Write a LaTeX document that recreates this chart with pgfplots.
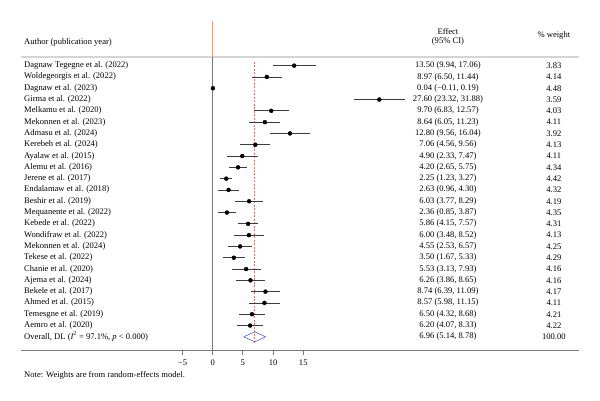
\documentclass[border=0pt]{standalone}
\usepackage{pgfplots}
\usepackage{pgfplotstable}
\usepackage{fontspec}
\setmainfont{Liberation Serif}
\pgfplotsset{compat=1.18}

\definecolor{cigray}{RGB}{60,60,60}
\definecolor{zerogray}{RGB}{120,120,120}
\definecolor{sepgray}{RGB}{212,212,212}
\definecolor{nullorange}{RGB}{246,160,140}
\definecolor{pooledred}{RGB}{200,120,110}
\definecolor{diamondblue}{RGB}{80,96,205}

% Study-level estimates with 95% CI and random-effects weights
\pgfplotstableread[col sep=semicolon]{
row;est;lo;hi;w;author;ci
1;13.50;9.94;17.06;3.83;Dagnaw Tegegne et al. (2022);13.50 (9.94, 17.06)
2;8.97;6.50;11.44;4.14;Woldegeorgis et al. (2022);8.97 (6.50, 11.44)
3;0.04;-0.11;0.19;4.48;Dagnaw et al. (2023);0.04 (−0.11, 0.19)
4;27.60;23.32;31.88;3.59;Girma et al. (2022);27.60 (23.32, 31.88)
5;9.70;6.83;12.57;4.03;Melkamu et al. (2020);9.70 (6.83, 12.57)
6;8.64;6.05;11.23;4.11;Mekonnen et al. (2023);8.64 (6.05, 11.23)
7;12.80;9.56;16.04;3.92;Admasu et al. (2024);12.80 (9.56, 16.04)
8;7.06;4.56;9.56;4.13;Kerebeh et al. (2024);7.06 (4.56, 9.56)
9;4.90;2.33;7.47;4.11;Ayalaw et al. (2015);4.90 (2.33, 7.47)
10;4.20;2.65;5.75;4.34;Alemu et al. (2016);4.20 (2.65, 5.75)
11;2.25;1.23;3.27;4.42;Jerene et al. (2017);2.25 (1.23, 3.27)
12;2.63;0.96;4.30;4.32;Endalamaw et al. (2018);2.63 (0.96, 4.30)
13;6.03;3.77;8.29;4.19;Beshir et al. (2019);6.03 (3.77, 8.29)
14;2.36;0.85;3.87;4.35;Mequanente et al. (2022);2.36 (0.85, 3.87)
15;5.86;4.15;7.57;4.31;Kebede et al. (2022);5.86 (4.15, 7.57)
16;6.00;3.48;8.52;4.13;Wondifraw et al. (2022);6.00 (3.48, 8.52)
17;4.55;2.53;6.57;4.25;Mekonnen et al. (2024);4.55 (2.53, 6.57)
18;3.50;1.67;5.33;4.29;Tekese et al. (2022);3.50 (1.67, 5.33)
19;5.53;3.13;7.93;4.16;Chanie et al. (2020);5.53 (3.13, 7.93)
20;6.26;3.86;8.65;4.16;Ajema et al. (2024);6.26 (3.86, 8.65)
21;8.74;6.39;11.09;4.17;Bekele et al. (2017);8.74 (6.39, 11.09)
22;8.57;5.98;11.15;4.11;Ahmed et al. (2015);8.57 (5.98, 11.15)
23;6.50;4.32;8.68;4.21;Temesgne et al. (2019);6.50 (4.32, 8.68)
24;6.20;4.07;8.33;4.22;Aemro et al. (2020);6.20 (4.07, 8.33)
}\studies

% Pooled estimate (DerSimonian--Laird)
\pgfplotstableread[col sep=semicolon]{
row;est;lo;hi;w;ci
25;6.96;5.14;8.78;100.00;6.96 (5.14, 8.78)
}\pooled

\begin{document}
\fontsize{8.6}{10}\selectfont
\begin{tikzpicture}
\begin{axis}[
  scale only axis,
  width=558bp, height=293.4bp,
  xmin=-31.74, xmax=60.65,
  ymin=0.257, ymax=26.22,
  y dir=reverse,
  clip=false,
  axis x line*=bottom,
  axis y line=none,
  axis line style={draw=zerogray, line width=0.8pt},
  xtick={-5,0,5,10,15},
  xticklabels={−5,0,5,10,15},
  tick align=outside,
  major tick length=4bp,
  tick style={draw=zerogray, line width=0.8pt},
  xticklabel style={font=\fontsize{8.6}{10}\selectfont, inner sep=1.5pt, yshift=-4bp},
  /pgf/number format/assume math mode=true,
]
% bounding frame of the figure
\coordinate (bbA) at (axis cs:-35.22,-4.81);
\coordinate (bbB) at (axis cs:64.14,30.67);

% header separator
\addplot[sepgray, line width=1.6pt, forget plot] coordinates {(-31.74,0.257) (60.65,0.257)};
% null line
\addplot[nullorange, line width=1.2pt, forget plot] coordinates {(0,-2.96) (0,0.257)};
\addplot[zerogray, line width=1.2pt, forget plot] coordinates {(0,0.257) (0,26.22)};
% pooled estimate reference line
\addplot[pooledred, line width=0.8pt, dash pattern=on 2pt off 1.5pt, forget plot]
  coordinates {(6.96,0.67) (6.96,25.63)};

% confidence intervals and point estimates
\addplot[only marks, mark=*, mark size=2pt, mark options={black, fill=black},
  error bars/.cd, x dir=both, x explicit, error mark=none,
  error bar style={cigray, line width=0.8pt}]
  table[x=est, y=row,
        x error plus expr=\thisrow{hi}-\thisrow{est},
        x error minus expr=\thisrow{est}-\thisrow{lo}] {\studies};

% pooled diamond
\addplot[diamondblue, line width=0.6pt, forget plot] coordinates
  {(5.14,25) (6.96,24.56) (8.78,25) (6.96,25.44) (5.14,25)};

% text columns
\addplot[draw=none, mark=none, nodes near coords, point meta=explicit symbolic,
  nodes near coords style={anchor=west, inner sep=0pt, text=black, font=\fontsize{8.6}{10}\selectfont}]
  table[x expr=-31.24, y=row, meta=author] {\studies};
\addplot[draw=none, mark=none, nodes near coords, point meta=explicit symbolic,
  nodes near coords style={anchor=center, inner sep=0pt, text=black, font=\fontsize{8.6}{10}\selectfont}]
  table[x expr=38.96, y=row, meta=ci] {\studies};
\addplot[draw=none, mark=none, nodes near coords, point meta=explicit symbolic,
  nodes near coords style={anchor=center, inner sep=0pt, text=black, font=\fontsize{8.6}{10}\selectfont}]
  table[x expr=56.5, y=row, meta=w] {\studies};
\addplot[draw=none, mark=none, nodes near coords, point meta=explicit symbolic,
  nodes near coords style={anchor=center, inner sep=0pt, text=black, font=\fontsize{8.6}{10}\selectfont}]
  table[x expr=38.96, y=row, meta=ci] {\pooled};
\addplot[draw=none, mark=none, nodes near coords, point meta=explicit symbolic,
  nodes near coords style={anchor=center, inner sep=0pt, text=black, font=\fontsize{8.6}{10}\selectfont}]
  table[x expr=56.5, y=row, meta=w] {\pooled};

\node[anchor=west, inner sep=0pt] at (axis cs:-31.24,25)
  {Overall, DL ({\itshape I}\textsuperscript{2} = 97.1\%, {\itshape p} < 0.000)};

% headers
\node[anchor=west, inner sep=0pt] at (axis cs:-31.24,-1.07) {Author (publication year)};
\node[anchor=center, inner sep=0pt] at (axis cs:38.96,-2.04) {Effect};
\node[anchor=center, inner sep=0pt] at (axis cs:38.96,-1.10) {(95\% CI)};
\node[anchor=center, inner sep=0pt] at (axis cs:56.5,-1.63) {\% weight};

% footnote
\node[anchor=west, inner sep=0pt] at (axis cs:-31.24,28.4) {Note: Weights are from random-effects model.};
\end{axis}
\pgfresetboundingbox
\useasboundingbox (bbA) rectangle (bbB);
\end{tikzpicture}
\end{document}
